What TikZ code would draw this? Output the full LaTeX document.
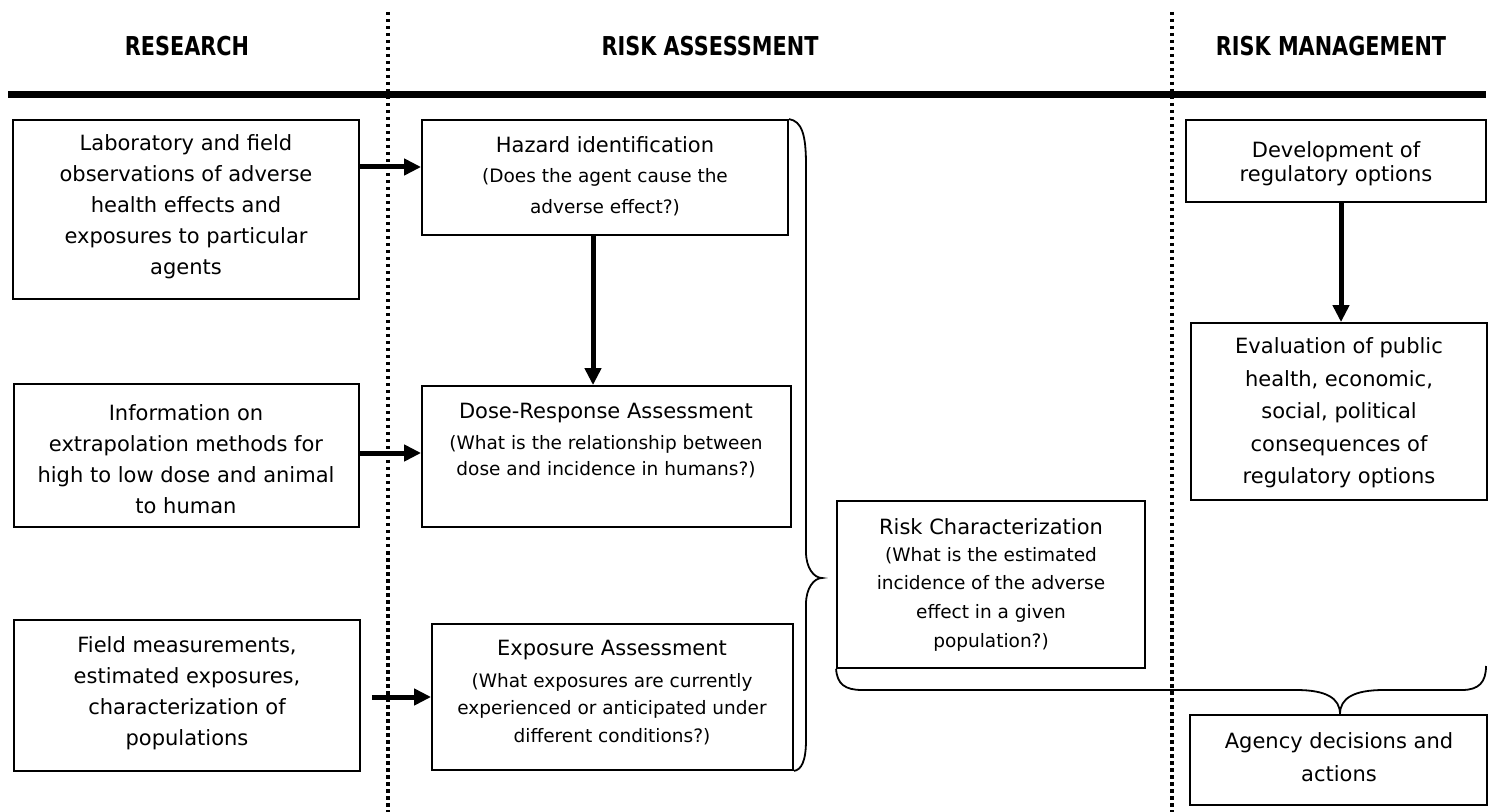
\documentclass[tikz,border=0pt]{standalone}
\usepackage{fontspec}
\setmainfont{DejaVu Sans}
\newfontfamily\headfont[FakeStretch=0.8]{DejaVu Sans}
\usetikzlibrary{arrows.meta,fit}

\begin{document}
\begin{tikzpicture}[x=0.5pt,y=-0.5pt,
  frame/.style={draw, line width=0.9pt, inner sep=0pt},
  bodytext/.style={align=center, inner sep=0pt, font=\fontsize{10.5pt}{#1}\selectfont},
  bodytext/.default=15.5pt,
  subtext/.style={align=center, inner sep=0pt, font=\fontsize{9.25pt}{#1}\selectfont},
  subtext/.default=14pt,
  headtext/.style={inner sep=0pt, font=\headfont\bfseries\fontsize{13pt}{15pt}\selectfont},
  arrowline/.style={line width=2.5pt, -{Triangle[length=8.5pt,width=8pt]}},
  bracepath/.style={line width=0.9pt},
  divider/.style={line width=1.75pt, dash pattern=on 1.75pt off 1.75pt},
]
\useasboundingbox (0,0) rectangle (1488,812);

% column headings and rules
\node[headtext] (hres) at (187,46) {RESEARCH};
\node[headtext] (hass) at (710,46) {RISK ASSESSMENT};
\node[headtext] (hman) at (1331,46) {RISK MANAGEMENT};
\coordinate (ruleL) at (8,95);
\coordinate (ruleR) at (1486,95);
\draw[line width=3.5pt] (ruleL) -- (ruleR);
\coordinate (d1top) at (388,12);
\coordinate (d1bot) at (388,812);
\coordinate (d2top) at (1172,12);
\coordinate (d2bot) at (1172,812);
\draw[divider] (d1top) -- (d1bot);
\draw[divider] (d2top) -- (d2bot);

% research column
\node[frame, fit={(13,120) (359,299)}] (lab) {};
\node[bodytext] (labT) at (186,207) {Laboratory and field\\observations of adverse\\health effects and\\exposures to particular\\agents};
\node[frame, fit={(14,384) (359,527)}] (info) {};
\node[bodytext] (infoT) at (186,459) {Information on\\extrapolation methods for\\high to low dose and animal\\to human};
\node[frame, fit={(14,620) (360,771)}] (field) {};
\node[bodytext] (fieldT) at (187,693) {Field measurements,\\estimated exposures,\\characterization of\\populations};

% risk assessment column
\node[frame, fit={(422,120) (788,235)}] (haz) {};
\node[bodytext] (hazT) at (605,145) {Hazard identification};
\node[subtext=15.5pt] (hazS) at (605,192) {(Does the agent cause the\\adverse effect?)};
\node[frame, fit={(422,386) (791,527)}] (dose) {};
\node[bodytext] (doseT) at (606,413) {Dose-Response Assessment};
\node[subtext=13pt] (doseS) at (606,457) {(What is the relationship between\\dose and incidence in humans?)};
\node[frame, fit={(432,624) (793,770)}] (exp) {};
\node[bodytext] (expT) at (612,650) {Exposure Assessment};
\node[subtext=13.75pt] (expS) at (612,709) {(What exposures are currently\\experienced or anticipated under\\different conditions?)};
\node[frame, fit={(837,501) (1145,668)}] (rc) {};
\node[bodytext] (rcT) at (991,527) {Risk Characterization};
\node[subtext=14.3pt] (rcS) at (991,599) {(What is the estimated\\incidence of the adverse\\effect in a given\\population?)};

% risk management column
\node[frame, fit={(1186,120) (1486,202)}] (dev) {};
\node[bodytext=12pt] (devT) at (1336,164) {Development of\\regulatory options};
\node[frame, fit={(1191,323) (1487,500)}] (eval) {};
\node[bodytext=16.25pt] (evalT) at (1339,413) {Evaluation of public\\health, economic,\\social, political\\consequences of\\regulatory options};
\node[frame, fit={(1190,715) (1487,805)}] (ag) {};
\node[bodytext=16.5pt] (agT) at (1339,757) {Agency decisions and\\actions};

% flow arrows
\draw[arrowline] (lab.east |- 0,167) -- (haz.west |- 0,167);
\draw[arrowline] (info.east |- 0,453) -- (dose.west |- 0,453);
\draw[arrowline, shorten <=5.5pt] (field.east |- exp.west) -- (exp.west);
\draw[arrowline] (haz.south -| 593,0) -- (dose.north -| 593,0);
\draw[arrowline] (dev.south -| 1341,0) -- (eval.north -| 1341,0);

% brace gathering the three assessment steps
\draw[bracepath] (haz.north east) .. controls (802,121) and (806,135) .. (806,165)
  -- (806,552) .. controls (806,568) and (814,578) .. (822,578)
  .. controls (814,578) and (806,588) .. (806,604)
  -- (806,740) .. controls (806,762) and (801,770) .. (exp.south east);

% brace leading to agency decisions
\coordinate (rmEnd) at (1486,666);
\draw[bracepath] (rc.south west) .. controls (837,684) and (845,690) .. (862,690)
  -- (1296,690) .. controls (1326,690) and (1340,698) .. (ag.north -| 1340,0)
  .. controls (1340,698) and (1354,690) .. (1384,690)
  -- (1462,690) .. controls (1479,690) and (1486,682) .. (rmEnd);
\end{tikzpicture}
\end{document}
